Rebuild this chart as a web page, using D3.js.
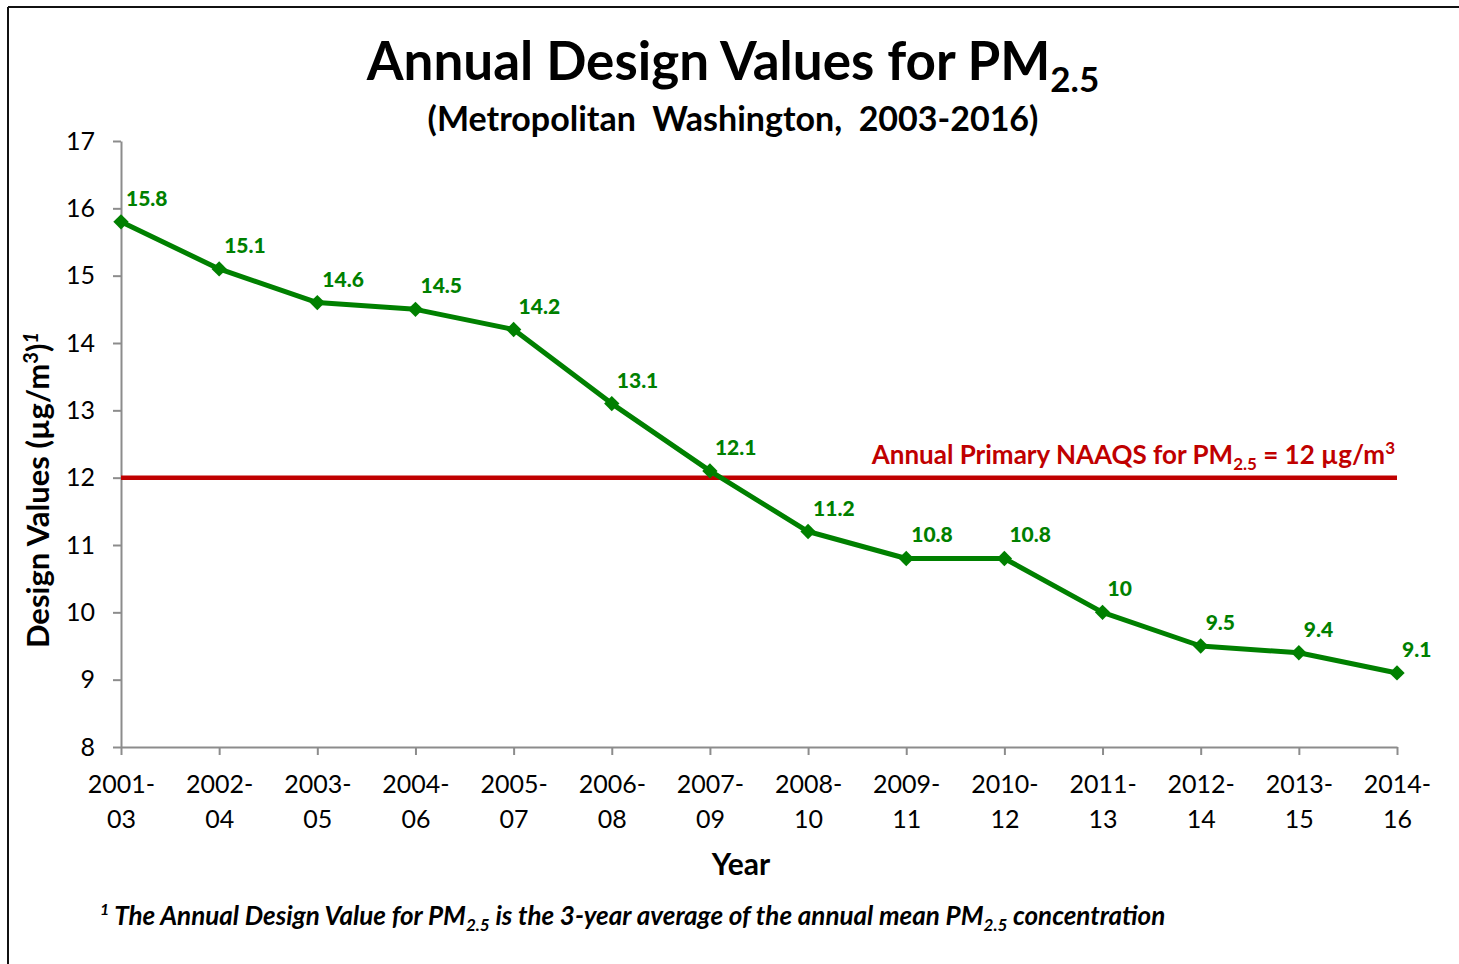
<!DOCTYPE html>
<html>
<head>
<meta charset="utf-8">
<title>Annual Design Values for PM2.5</title>
<script src="https://d3js.org/d3.v7.min.js"></script>
<style>
  body { margin: 0; background: #fff; }
  text { font-family: Lato, "Open Sans", sans-serif; }
  .axis path, .axis line { stroke: #8c8c8c; stroke-width: 2px; }
  .axis text { font-size: 25px; fill: #000; }
</style>
</head>
<body>
<svg id="chart" width="1459" height="964"></svg>
<script>
// data
const periods = ["2001-03","2002-04","2003-05","2004-06","2005-07","2006-08","2007-09",
                 "2008-10","2009-11","2010-12","2011-13","2012-14","2013-15","2014-16"];
const designValues = [15.8, 15.1, 14.6, 14.5, 14.2, 13.1, 12.1, 11.2, 10.8, 10.8, 10, 9.5, 9.4, 9.1];
const naaqs = 12;
const yTicks = [8, 9, 10, 11, 12, 13, 14, 15, 16, 17];

const green = "#008000", red = "#C00000";

var svg = d3.select("#chart");

// frame (top and left edge only, like the source)
svg.append("line").attr("x1", 8).attr("y1", 7).attr("x2", 1459).attr("y2", 7)
  .style("stroke", "#111").style("stroke-width", 2);
svg.append("line").attr("x1", 8).attr("y1", 7).attr("x2", 8).attr("y2", 964)
  .style("stroke", "#111").style("stroke-width", 2);

var x = d3.scalePoint().domain(periods).range([121, 1397]),
    y = d3.scaleLinear().domain([8, 17]).range([747, 141]);

// title
var title = svg.append("text")
  .attr("x", 733).attr("y", 80)
  .attr("text-anchor", "middle")
  .style("font-size", "53px").style("font-weight", "bold");
title.append("tspan").text("Annual Design Values for PM");
title.append("tspan").attr("dy", 12).style("font-size", "35px").text("2.5");

svg.append("text")
  .attr("x", 733).attr("y", 131)
  .attr("text-anchor", "middle")
  .style("font-size", "34px").style("font-weight", "bold")
  .attr("xml:space", "preserve")
  .text("(Metropolitan  Washington,  2003-2016)");

// axes
var yAxis = svg.append("g").attr("class", "axis")
  .attr("transform", "translate(121,0)")
  .call(d3.axisLeft(y).tickValues(yTicks).tickSize(8).tickSizeOuter(0).tickPadding(18));

var xAxis = svg.append("g").attr("class", "axis")
  .attr("transform", "translate(0,747)")
  .call(d3.axisBottom(x).tickSize(8).tickSizeOuter(0).tickFormat(""));

xAxis.selectAll(".tick").append("text")
  .attr("fill", "#000")
  .attr("text-anchor", "middle")
  .each(function(d) {
    var parts = d.split("-");
    var t = d3.select(this);
    t.append("tspan").attr("x", 0).attr("y", 46).text(parts[0] + "-");
    t.append("tspan").attr("x", 0).attr("y", 81).text(parts[1]);
  });

// axis titles
svg.append("text")
  .attr("x", 741).attr("y", 875)
  .attr("text-anchor", "middle")
  .style("font-size", "30px").style("font-weight", "bold")
  .text("Year");

var yTitle = svg.append("text")
  .attr("transform", "translate(49,490)rotate(-90)")
  .attr("text-anchor", "middle")
  .style("font-size", "31px").style("font-weight", "bold");
yTitle.append("tspan").text("Design Values (µg/m");
yTitle.append("tspan").attr("dy", -11).style("font-size", "20px").text("3");
yTitle.append("tspan").attr("dy", 11).text(")");
yTitle.append("tspan").attr("dy", -11).style("font-size", "20px").style("font-style", "italic").text("1");

// NAAQS reference line
svg.append("line")
  .attr("x1", x(periods[0])).attr("x2", x(periods[periods.length - 1]))
  .attr("y1", y(naaqs)).attr("y2", y(naaqs))
  .style("stroke", red).style("stroke-width", 4.5);

var ref = svg.append("text")
  .attr("x", 1395).attr("y", 464)
  .attr("text-anchor", "end")
  .style("font-size", "26px").style("font-weight", "bold")
  .style("fill", red);
ref.append("tspan").text("Annual Primary NAAQS for PM");
ref.append("tspan").attr("dy", 6).style("font-size", "17px").text("2.5");
ref.append("tspan").attr("dy", -6).text(" = 12 µg/m");
ref.append("tspan").attr("dy", -10).style("font-size", "17px").text("3");

// series
var data = periods.map((p, i) => ({ period: p, value: designValues[i] }));

var line = d3.line()
  .x(d => x(d.period))
  .y(d => y(d.value));

svg.append("path")
  .datum(data)
  .attr("d", line)
  .style("fill", "none")
  .style("stroke", green)
  .style("stroke-width", 5)
  .style("stroke-linejoin", "round");

svg.append("g")
  .selectAll("path")
  .data(data)
  .enter()
  .append("path")
  .attr("transform", d => "translate(" + x(d.period) + "," + y(d.value) + ")")
  .attr("d", d3.symbol(d3.symbolDiamond2, 150))
  .style("fill", green);

svg.append("g")
  .selectAll("text")
  .data(data)
  .enter()
  .append("text")
  .attr("x", d => x(d.period) + 5)
  .attr("y", d => y(d.value) - 16)
  .style("font-size", "21px")
  .style("font-weight", "900")
  .style("fill", green)
  .text(d => d.value);

// footnote
var foot = svg.append("text")
  .attr("x", 100).attr("y", 925)
  .style("font-size", "26px").style("font-weight", "bold").style("font-style", "italic");
foot.append("tspan").attr("dy", -10).style("font-size", "16px").text("1");
foot.append("tspan").attr("dy", 10).text(" The Annual Design Value for PM");
foot.append("tspan").attr("dy", 6).style("font-size", "17px").text("2.5");
foot.append("tspan").attr("dy", -6).text(" is the 3-year average of the annual mean PM");
foot.append("tspan").attr("dy", 6).style("font-size", "17px").text("2.5");
foot.append("tspan").attr("dy", -6).text(" concentration");
</script>
</body>
</html>
